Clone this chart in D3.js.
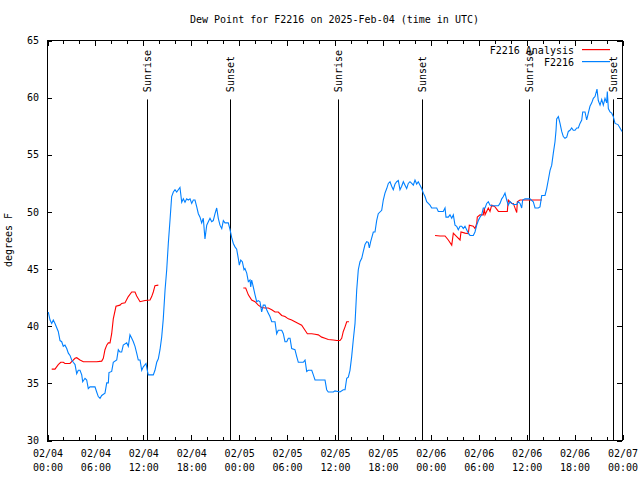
<!DOCTYPE html>
<html><head><meta charset="utf-8">
<script src="https://cdn.jsdelivr.net/npm/d3@7"></script>
<style>
body{margin:0;background:#fff}
svg{display:block}
text{font-family:"DejaVu Sans Mono",monospace;font-size:10px;fill:#000}
</style>
</head><body>
<svg id="c" width="640" height="480"></svg>
<script>
const title = "Dew Point for F2216 on 2025-Feb-04 (time in UTC)";
const yLabel = "degrees F";
const seriesNames = ["F2216 Analysis", "F2216"];
const seriesColors = ["#ff0000", "#0080ff"];
const startTime = "2025-02-04T00:00:00Z";
const endTime = "2025-02-07T00:00:00Z";
const yTicks = [30, 35, 40, 45, 50, 55, 60, 65];
const eventTimes = ["2025-02-04T12:29:00Z", "2025-02-04T22:57:00Z", "2025-02-05T12:28:00Z", "2025-02-05T22:54:00Z", "2025-02-06T12:25:00Z", "2025-02-06T22:55:00Z"];
const eventLabels = ["Sunrise", "Sunset", "Sunrise", "Sunset", "Sunrise", "Sunset"];

// observations: hours after 2025-02-04 00:00 UTC
const obsHours = [0.16,0.38,0.59,0.79,1.00,1.41,1.63,1.84,2.04,2.25,2.47,2.67,2.88,3.09,3.29,3.51,3.72,3.92,4.13,4.35,4.47,4.76,4.97,5.17,5.38,6.01,6.22,6.42,6.64,6.85,7.26,7.48,7.68,7.76,8.10,8.30,8.73,8.93,9.14,9.35,9.55,9.98,10.18,10.39,10.61,10.81,11.02,11.23,11.43,11.65,11.86,12.06,12.40,12.56,12.68,13.31,13.52,13.74,13.94,14.15,14.36,14.56,14.78,14.99,15.19,15.40,15.61,15.82,16.03,16.24,16.44,16.65,16.87,17.07,17.28,17.49,17.69,17.91,18.12,18.32,18.53,18.75,18.95,19.16,19.37,19.57,19.78,20.00,20.20,20.41,20.62,20.82,21.04,21.25,21.45,21.66,21.88,22.08,22.29,22.50,22.70,22.92,23.13,23.33,23.54,23.75,23.95,24.08,24.26,24.46,24.67,24.79,25.01,25.21,25.42,25.51,25.63,25.83,26.05,26.26,26.46,26.67,26.88,27.08,27.30,27.51,27.71,27.92,28.14,28.55,28.76,28.96,29.39,29.59,29.80,30.02,30.22,30.43,30.64,31.05,31.27,31.47,32.09,32.31,32.52,32.72,33.15,33.35,33.56,34.81,35.02,35.22,35.85,36.06,36.69,37.10,37.32,37.53,37.73,37.94,38.15,38.35,38.57,38.78,38.98,39.19,39.41,39.61,39.82,40.03,40.23,40.36,40.53,40.86,41.07,41.28,41.48,41.91,42.11,42.32,42.54,42.74,42.95,43.16,43.36,43.58,43.79,43.99,44.20,44.41,44.62,44.83,45.04,45.24,45.45,45.67,45.87,46.08,46.29,46.49,46.71,46.92,47.12,47.33,47.54,47.75,47.96,48.17,48.80,49.00,49.62,49.84,49.96,50.25,50.46,50.68,50.88,51.09,51.30,51.50,51.72,51.93,52.13,52.34,52.55,52.76,52.97,53.38,53.59,53.81,54.01,54.22,54.43,54.63,54.85,55.06,55.26,55.47,55.69,56.31,56.52,56.72,56.94,57.14,57.35,57.56,57.76,57.98,58.39,58.82,59.02,59.23,59.44,59.56,59.86,60.48,60.89,61.11,61.52,61.73,61.95,62.36,62.57,62.77,62.99,63.20,63.40,63.61,63.74,63.82,64.03,64.24,64.45,64.65,64.86,65.08,65.28,65.49,65.70,65.90,66.12,66.33,66.53,66.74,66.96,67.08,67.37,67.58,67.78,67.99,68.21,68.41,68.62,68.87,69.03,69.25,69.46,69.66,69.87,70.08,70.16,70.29,70.50,70.71,70.91,71.13,71.50,71.75,72.00];
const obsDew = [41.2,40.5,40.2,40.5,40.2,39.5,38.7,38.6,38.2,38.3,38.0,37.6,37.4,37.0,36.8,36.6,35.8,36.1,36.1,35.7,35.1,35.4,35.25,34.5,34.65,34.65,34.2,33.8,33.65,33.9,34.1,35.0,35.0,35.9,36.0,36.8,37.0,37.9,37.7,37.7,38.3,38.5,38.2,39.2,38.9,38.6,38.2,37.6,37.0,37.0,36.1,36.4,36.7,36.1,35.7,35.7,36.1,36.8,37.1,37.9,39.0,40.6,43.1,44.9,47.2,49.2,51.3,51.7,51.9,51.7,51.9,52.1,50.8,51.1,50.8,51.1,51.0,51.1,50.7,51.0,51.0,50.4,49.8,49.5,49.0,49.4,47.6,48.8,49.1,49.4,49.1,49.2,49.8,50.3,49.4,48.8,48.5,49.2,49.0,49.0,49.0,48.4,47.7,47.2,46.9,46.7,45.9,45.3,45.75,45.6,44.9,45.0,44.6,43.85,44.0,43.4,44.0,43.4,42.7,42.1,42.2,42.1,41.2,41.8,41.8,41.4,41.1,40.8,40.35,40.35,39.3,39.6,39.6,39.3,38.6,38.6,38.9,38.9,38.0,37.9,37.3,36.8,36.8,37.0,36.0,36.1,36.1,35.7,35.25,35.25,34.4,34.2,34.2,34.3,34.2,34.4,34.4,35.4,35.5,36.1,37.3,38.75,40.2,43.1,44.9,45.6,45.9,46.5,47.1,47.35,47.3,46.8,47.35,48.2,48.2,49.2,49.8,50.1,51.0,51.6,52.0,52.45,52.6,52.2,51.9,52.4,52.6,52.7,51.9,52.2,52.6,52.3,52.0,52.45,52.6,52.45,52.3,52.75,52.4,52.6,52.3,52.0,51.6,51.3,50.85,50.7,50.55,50.3,50.3,50.0,50.0,50.3,49.5,49.5,49.7,49.4,49.7,48.8,48.7,48.4,48.7,48.7,48.5,48.7,48.4,48.1,47.9,47.9,48.2,48.8,49.2,49.5,49.7,50.3,50.3,50.7,50.85,50.55,50.5,50.5,50.5,50.7,51.1,51.3,51.6,51.0,50.55,50.85,50.6,50.6,50.85,50.7,50.3,51.0,51.1,51.1,50.85,50.3,50.3,50.4,51.4,51.4,52.0,52.75,53.6,54.05,55.1,56.1,57.1,58.1,58.3,57.7,57.0,56.55,56.4,56.5,57.0,57.1,57.3,57.1,57.1,57.3,57.3,57.7,58.0,58.7,58.7,58.0,58.6,59.2,59.5,59.9,60.05,60.7,59.7,59.3,59.8,59.3,59.9,59.5,60.5,59.0,58.7,58.6,58.3,57.7,57.6,57.3,57.0];

// analysis: hours after 2025-02-04 00:00 UTC (null = gap)
const anaHours = [0.59,1.00,1.41,1.72,2.04,2.25,2.88,3.09,3.51,3.72,4.13,4.55,6.22,6.85,7.05,7.26,7.48,7.68,7.89,8.10,8.30,8.64,9.14,9.35,9.77,10.18,10.61,11.02,11.23,11.65,12.27,12.90,13.11,13.31,13.52,13.94,
  19.0,
  24.58,24.88,25.21,25.63,26.05,26.46,26.88,27.30,27.71,28.14,28.55,28.96,29.39,29.80,30.22,30.64,31.05,31.47,31.89,32.31,32.60,33.15,33.56,33.97,34.40,34.81,35.22,35.85,36.28,36.69,36.90,37.10,37.32,37.53,37.81,
  43.0,
  48.59,49.21,49.84,50.25,50.68,50.88,51.30,51.72,51.84,52.34,52.76,52.88,53.38,53.59,53.81,53.88,54.22,54.63,54.76,54.85,55.26,55.47,55.69,56.10,56.52,57.64,57.76,58.19,58.39,58.82,58.89,59.23,59.86,60.89,61.95];
const anaDew = [36.2,36.2,36.6,36.8,36.8,36.7,36.7,36.85,37.15,37.2,37.0,36.85,36.85,36.9,37.15,37.9,38.3,38.5,38.5,39.3,40.6,41.7,41.8,41.95,42.0,42.55,42.95,42.95,42.6,42.1,42.2,42.25,42.55,42.95,43.5,43.55,
  null,
  43.3,43.3,42.7,42.25,42.1,41.8,41.6,41.55,41.55,41.4,41.2,41.2,40.9,40.8,40.6,40.5,40.35,40.2,40.05,39.6,39.3,39.3,39.25,39.2,39.0,38.9,38.8,38.75,38.7,38.7,38.9,39.5,39.9,40.35,40.35,
  null,
  47.9,47.85,47.85,47.5,47.05,48.1,47.8,47.5,48.2,48.1,48.05,48.8,48.7,48.5,48.95,49.5,49.7,49.7,50.3,49.7,50.3,50.0,50.55,50.4,50.0,50.0,51.0,50.7,50.7,49.9,50.85,51.0,51.0,51.0,51.0];

const svg = d3.select("#c");
const L = 47, R = 622, T = 40, B = 440;
const t0 = new Date(startTime);
const toDate = h => new Date(t0.getTime() + h * 3600e3);

const x = d3.scaleUtc().domain([new Date(startTime), new Date(endTime)]).range([L, R]);
const y = d3.scaleLinear().domain([30, 65]).range([B, T]);

// frame
svg.append("rect").attr("x", L + 0.5).attr("y", T + 0.5).attr("width", R - L).attr("height", B - T)
  .style("fill", "none").style("stroke", "#000");

function styleAxis(g) {
  g.select(".domain").remove();
  g.selectAll("line").style("stroke", "#000").attr("shape-rendering", "crispEdges");
  g.selectAll("text").attr("font-family", null).attr("font-size", null).style("fill", "#000");
  g.attr("font-family", null).attr("font-size", null);
}

const fmtD = d3.utcFormat("%m/%d"), fmtH = d3.utcFormat("%H:%M");
// bottom major
const gxb = svg.append("g").attr("transform", `translate(0.5,${B})`)
  .call(d3.axisBottom(x).ticks(d3.utcHour.every(6)).tickSize(-5).tickFormat(d => fmtD(d)));
styleAxis(gxb);
gxb.selectAll(".tick text").each(function (d) {
  const t = d3.select(this);
  t.text(null).attr("y", 17).attr("dy", null);
  t.append("tspan").attr("x", 0).text(fmtD(d));
  t.append("tspan").attr("x", 0).attr("dy", 14).text(fmtH(d));
});
// bottom minor
styleAxis(svg.append("g").attr("transform", `translate(0.5,${B})`)
  .call(d3.axisBottom(x).ticks(d3.utcHour.every(2)).tickSize(-3).tickFormat("")));
// top
styleAxis(svg.append("g").attr("transform", `translate(0.5,${T + 1})`)
  .call(d3.axisTop(x).ticks(d3.utcHour.every(6)).tickSize(-5).tickFormat("")));
styleAxis(svg.append("g").attr("transform", `translate(0.5,${T + 1})`)
  .call(d3.axisTop(x).ticks(d3.utcHour.every(2)).tickSize(-3).tickFormat("")));
// left
styleAxis(svg.append("g").attr("transform", `translate(${L},0.5)`)
  .call(d3.axisLeft(y).tickValues(yTicks).tickSize(-5).tickPadding(8)));
// right
styleAxis(svg.append("g").attr("transform", `translate(${R},0.5)`)
  .call(d3.axisRight(y).tickValues(yTicks).tickSize(-5).tickFormat("")));

// title & y label
svg.append("text").attr("x", (L + R) / 2).attr("y", 23).attr("text-anchor", "middle").text(title);
svg.append("text").attr("transform", `translate(12,${(T + B) / 2}) rotate(-90)`)
  .attr("text-anchor", "middle").text(yLabel);

// events
eventTimes.forEach((et, i) => {
  const ex = Math.round(x(new Date(et))) + 0.5;
  svg.append("path").attr("d", `M${ex},${y(59.8)}V${y(30)}`)
    .style("stroke", "#000").style("fill", "none").style("stroke-width", 1);
  svg.append("text").attr("transform", `translate(${ex},${y(60) - 5}) rotate(-90)`)
    .attr("dy", "0.35em").attr("text-anchor", "start").text(eventLabels[i]);
});

// series
const line = d3.line().defined(d => d.v != null).x(d => x(d.t)).y(d => y(d.v));
const ana = anaHours.map((h, i) => ({ t: toDate(h), v: anaDew[i] }));
const obs = obsHours.map((h, i) => ({ t: toDate(h), v: obsDew[i] }));
svg.append("path").datum(ana).attr("d", line)
  .style("fill", "none").style("stroke", seriesColors[0]).style("stroke-width", 1.1);
svg.append("path").datum(obs).attr("d", line)
  .style("fill", "none").style("stroke", seriesColors[1]).style("stroke-width", 1.1);

// legend
const legend = svg.append("g");
seriesNames.forEach((n, i) => {
  const ly = 54 + i * 12;
  legend.append("text").attr("x", 574).attr("y", ly).attr("text-anchor", "end").text(n);
  legend.append("rect").attr("x", 582).attr("y", ly - 5).attr("width", 28).attr("height", 1.2)
    .attr("fill", seriesColors[i]).style("fill", seriesColors[i]).style("stroke", "none");
});
</script>
</body></html>
